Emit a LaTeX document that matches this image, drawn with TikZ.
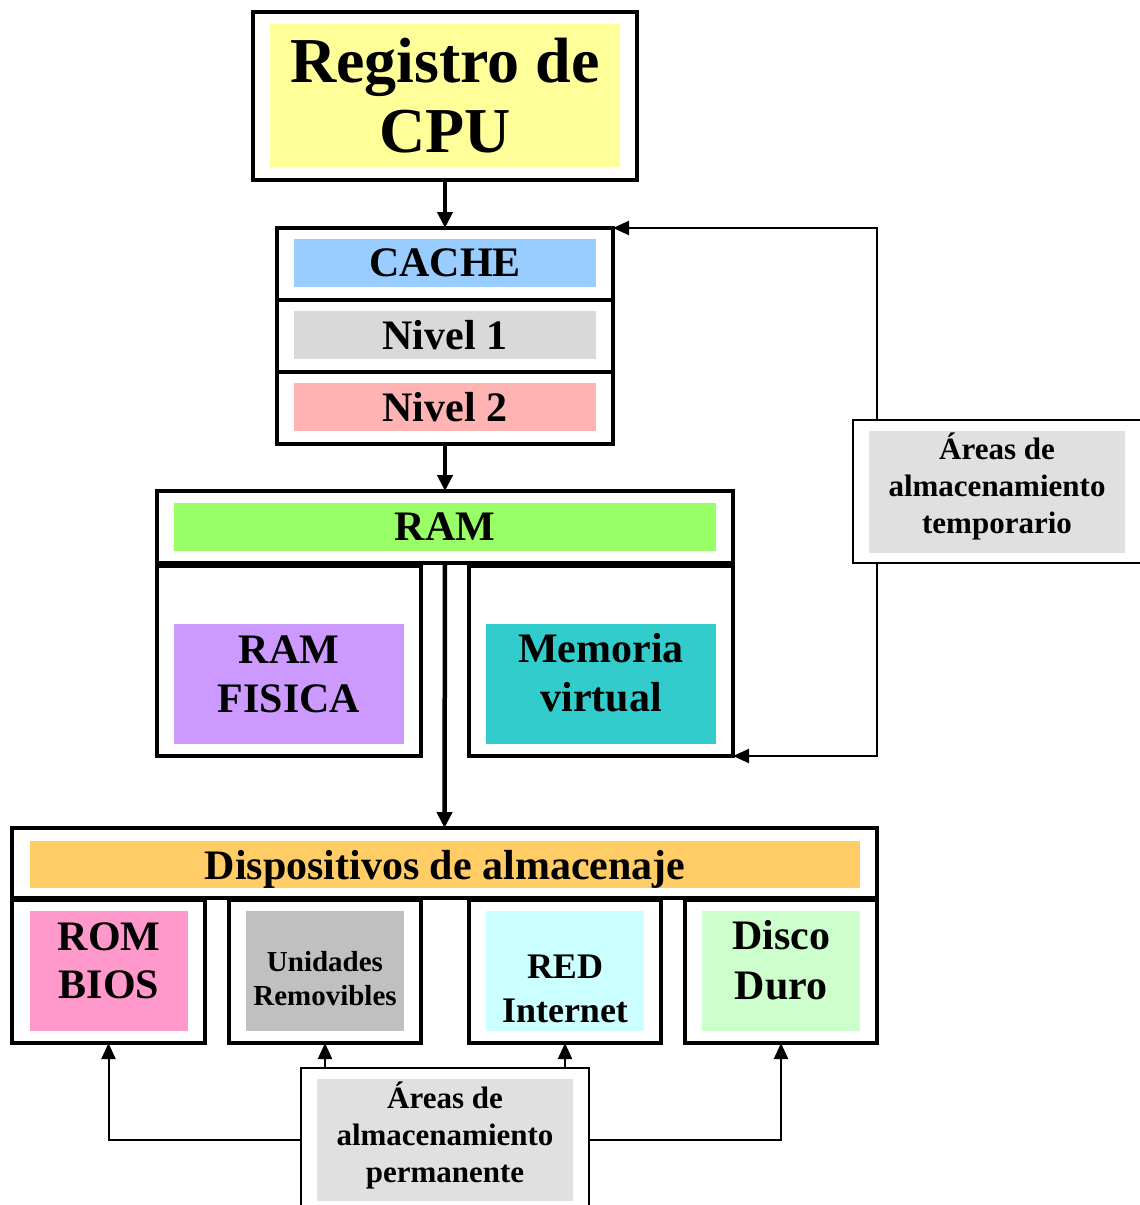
\documentclass[tikz,border=0pt]{standalone}
\usepackage{fontspec}
\setmainfont{Liberation Serif}
\usetikzlibrary{arrows.meta}
\definecolor{cyel}{HTML}{FFFF99}
\definecolor{cblue}{HTML}{99CCFF}
\definecolor{cgrayA}{HTML}{D9D9D9}
\definecolor{cpink}{HTML}{FFB3B3}
\definecolor{cgreen}{HTML}{99FF66}
\definecolor{cpurple}{HTML}{CC99FF}
\definecolor{cteal}{HTML}{33CCCC}
\definecolor{corange}{HTML}{FFCC66}
\definecolor{crose}{HTML}{FF99CC}
\definecolor{cgrayB}{HTML}{C0C0C0}
\definecolor{ccyan}{HTML}{CCFFFF}
\definecolor{cmint}{HTML}{CCFFCC}
\definecolor{cgrayC}{HTML}{E0E0E0}
\newcommand\myfs[2]{\fontsize{#1}{#2}\selectfont}
\begin{document}
\begin{tikzpicture}[x=1pt,y=-1pt,
  box/.style={draw,line width=3.5pt,anchor=north west,inner sep=0pt,outer sep=0pt},
  thinbox/.style={draw,line width=2pt,anchor=north west,inner sep=0pt,outer sep=0pt},
  cell/.style={anchor=north west,inner sep=0pt,outer sep=0pt,draw=none},
  lbl/.style={align=center,inner sep=0pt},
  mainarrow/.style={line width=4.5pt,-{Triangle[length=16pt,width=15pt]}},
  thinarrow/.style={line width=2pt,-{Triangle[length=16pt,width=14pt]}}
]
\useasboundingbox (0,0) rectangle (1140,1205);
% CPU
\node[box,minimum width=384pt,minimum height=168pt] (cpu) at (253,12) {};
\node[cell,fill=cyel,minimum width=350pt,minimum height=143pt] (cpuc) at (270,24) {};
\node[lbl,font=\bfseries\myfs{64}{70}] (cput) at (cpuc.center) {Registro de\\CPU};
% Cache
\node[box,minimum width=336pt,minimum height=72pt] (cacheA) at (277,228) {};
\node[box,minimum width=336pt,minimum height=72pt] (cacheB) at (277,300) {};
\node[box,minimum width=336pt,minimum height=72pt] (cacheC) at (277,372) {};
\node[cell,fill=cblue,minimum width=302pt,minimum height=48pt] (cacheAc) at (294,239) {};
\node[cell,fill=cgrayA,minimum width=302pt,minimum height=48pt] (cacheBc) at (294,311) {};
\node[cell,fill=cpink,minimum width=302pt,minimum height=48pt] (cacheCc) at (294,383) {};
\node[lbl,font=\bfseries\myfs{42}{48}] (cacheAt) at (cacheAc.center) {CACHE};
\node[lbl,font=\bfseries\myfs{42}{48}] (cacheBt) at (cacheBc.center) {Nivel 1};
\node[lbl,font=\bfseries\myfs{42}{48}] (cacheCt) at (cacheCc.center) {Nivel 2};
% RAM
\node[box,minimum width=576pt,minimum height=72pt] (ram) at (157,491) {};
\node[cell,fill=cgreen,minimum width=542pt,minimum height=48pt] (ramc) at (174,503) {};
\node[lbl,font=\bfseries\myfs{42}{48}] (ramt) at (ramc.center) {RAM};
\node[box,minimum width=264pt,minimum height=190pt] (ramf) at (157,566) {};
\node[cell,fill=cpurple,minimum width=230pt,minimum height=120pt] (ramfc) at (174,624) {};
\node[lbl,font=\bfseries\myfs{42}{49}] (ramft) at ([yshift=10pt]ramfc.center) {RAM\\FISICA};
\node[box,minimum width=264pt,minimum height=190pt] (memv) at (469,566) {};
\node[cell,fill=cteal,minimum width=230pt,minimum height=120pt] (memvc) at (486,624) {};
\node[lbl,font=\bfseries\myfs{42}{49}] (memvt) at ([yshift=11pt]memvc.center) {Memoria\\virtual};
% Dispositivos
\node[box,minimum width=865pt,minimum height=70pt] (disp) at (12,828) {};
\node[cell,fill=corange,minimum width=830pt,minimum height=47pt] (dispc) at (30,841) {};
\node[lbl,font=\bfseries\myfs{42}{48}] (dispt) at ([yshift=-5pt]dispc.center) {Dispositivos de almacenaje};
\node[box,minimum width=193pt,minimum height=143pt] (rom) at (12,900) {};
\node[box,minimum width=192pt,minimum height=143pt] (uni) at (229,900) {};
\node[box,minimum width=192pt,minimum height=143pt] (red) at (469,900) {};
\node[box,minimum width=192pt,minimum height=143pt] (dd) at (685,900) {};
\node[cell,fill=crose,minimum width=158pt,minimum height=120pt] (romc) at (30,911) {};
\node[cell,fill=cgrayB,minimum width=158pt,minimum height=120pt] (unic) at (246,911) {};
\node[cell,fill=ccyan,minimum width=158pt,minimum height=120pt] (redc) at (486,911) {};
\node[cell,fill=cmint,minimum width=158pt,minimum height=120pt] (ddc) at (702,911) {};
\node[lbl,font=\bfseries\myfs{42}{48}] (romt) at ([yshift=10pt]romc.center) {ROM\\BIOS};
\node[lbl,font=\bfseries\myfs{29}{34}] (unit) at ([yshift=-8pt]unic.center) {Unidades\\Removibles};
\node[lbl,font=\bfseries\myfs{36}{44}] (redt) at ([yshift=-18pt]redc.center) {RED\\Internet};
\node[lbl,font=\bfseries\myfs{42}{50}] (ddt) at ([yshift=11pt]ddc.center) {Disco\\Duro};
% Areas
\node[thinbox,minimum width=288pt,minimum height=143pt] (tmp) at (853,420) {};
\node[cell,fill=cgrayC,minimum width=256pt,minimum height=122pt] (tmpc) at (869,431) {};
\node[lbl,font=\bfseries\myfs{31}{37}] (tmpt) at ([yshift=6pt]tmpc.center) {Áreas de\\almacenamiento\\temporario};
\node[thinbox,minimum width=288pt,minimum height=144pt] (perm) at (301,1068) {};
\node[cell,fill=cgrayC,minimum width=256pt,minimum height=122pt] (permc) at (317,1079) {};
\node[lbl,font=\bfseries\myfs{31}{37}] (permt) at ([yshift=5pt]permc.center) {Áreas de\\almacenamiento\\permanente};
% Connectors
\draw[mainarrow] (cpu.south) -- (cacheA.north);
\draw[mainarrow] (cacheC.south) -- (ram.north);
\draw[mainarrow] (ram.south) -- (disp.north);
\draw[thinarrow] ([xshift=24pt]tmp.north west) |- (cacheA.north east);
\draw[thinarrow] ([xshift=24pt]tmp.south west) |- (memv.south east);
\draw[thinarrow] (perm.west) -| (rom.south);
\draw[thinarrow] (perm.east) -| (dd.south);
\draw[thinarrow] (perm.north -| uni.south) -- (uni.south);
\draw[thinarrow] (perm.north -| red.south) -- (red.south);
\end{tikzpicture}
\end{document}
